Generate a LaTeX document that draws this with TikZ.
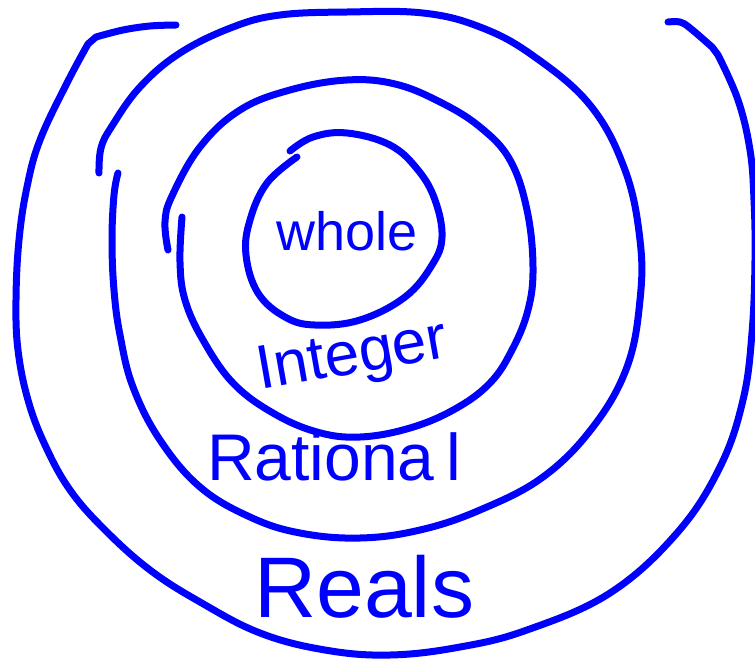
\documentclass[tikz,border=0pt]{standalone}
\usepackage{fontspec}
\setmainfont{Liberation Sans}
\definecolor{penblue}{RGB}{0,0,255}
\tikzset{
  pen/.style={draw=penblue, line width=7pt, line cap=round, line join=round},
  txt/.style={text=penblue, inner sep=0pt, anchor=base west},
}
\begin{document}
\begin{tikzpicture}[x=1pt,y=-1pt]
\useasboundingbox (0,0) rectangle (755,659);
% Reals (open U)
\draw[pen] plot[smooth, tension=0.6] coordinates {(176,25) (150,26) (123,30) (96,37)}
  -- plot[smooth, tension=0.65] coordinates {(88,44) (67,83) (40,140) (27,187) (19,240) (16,300) (18,350) (28,400) (45,445) (70,490) (105,530) (150,570) (200,602) (260,633) (325,650) (390,655) (460,647) (527,630) (610,593) (677,533) (720,467) (743,400) (752,333) (755,260) (754,200) (750,150) (738,100) (718,55)}
  -- plot[smooth, tension=0.6] coordinates {(712,47) (690,28) (680,22) (668,22)};
% Rational
\draw[pen] plot[smooth, tension=0.65] coordinates {(99,173) (101,148) (112,126) (140,87) (180,53) (233,27) (280,15) (347,12) (423,13) (480,27) (532,55) (590,105) (625,170) (640,240) (640,300) (627,367) (593,427) (543,477) (480,510) (420,530) (360,538) (300,533) (250,517) (200,487) (160,440) (133,387) (120,335) (114,290) (112,240) (114,195) (118,173)};
% Integer
\draw[pen] plot[smooth, tension=0.65] coordinates {(168,250) (165,222) (172,196) (200,147) (240,110) (290,90) (347,80) (395,84) (440,102) (480,127) (510,160) (527,210) (533,267) (528,310) (512,350) (490,383) (455,409) (410,428) (360,437) (317,432) (273,413) (233,383) (203,340) (185,300) (180,262) (182,217)};
% Whole
\draw[pen] plot[smooth, tension=0.65] coordinates {(297,157) (267,183) (250,220) (246,255) (258,293) (285,317) (315,325) (360,320) (405,297) (432,265) (442,237) (435,200) (418,170) (390,145) (347,133) (313,137) (290,151)};
% labels
\node[txt, font=\fontsize{54}{54}\selectfont] (whole) at (276,250) {whole};
\node[txt, font=\fontsize{62}{62}\selectfont, rotate=10] (integer) at (260,390) {Integer};
\node[txt, font=\fontsize{66}{66}\selectfont] (rational) at (207,480) {Rationa\kern12pt l};
\node[txt, font=\fontsize{86}{86}\selectfont] (reals) at (254,617) {Reals};
\end{tikzpicture}
\end{document}
